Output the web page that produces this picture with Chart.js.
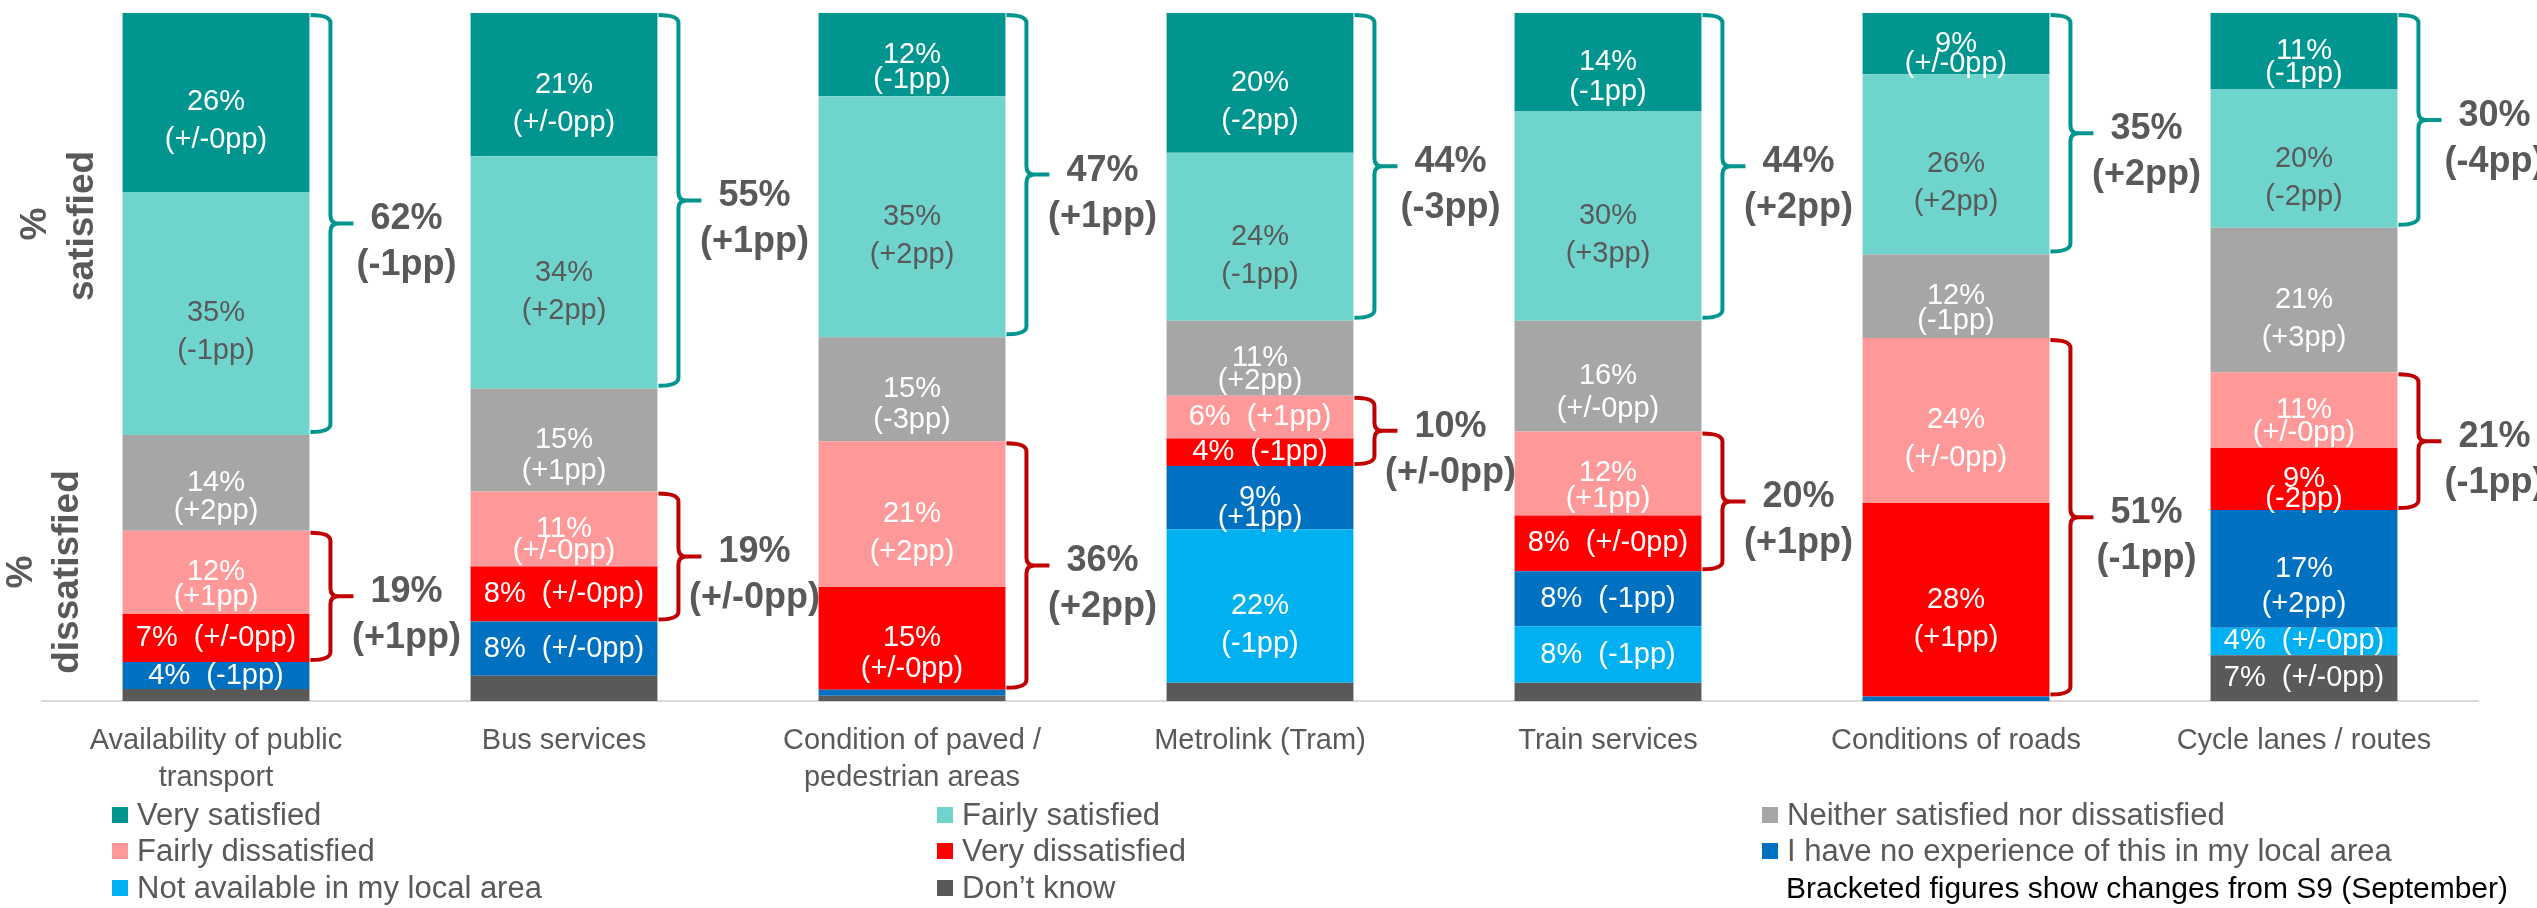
<!DOCTYPE html>
<html>
<head>
<meta charset="utf-8">
<script src="https://cdn.jsdelivr.net/npm/chart.js@4.4.1/dist/chart.umd.min.js"></script>
<style>
  body { margin: 0; background: #fff; }
  canvas { display: block; }
</style>
</head>
<body>
<canvas id="myChart" width="2537" height="908"></canvas>
<script>
const categories = [
  ['Availability of public', 'transport'],
  'Bus services',
  ['Condition of paved /', 'pedestrian areas'],
  'Metrolink (Tram)',
  'Train services',
  'Conditions of roads',
  'Cycle lanes / routes'
];

// % of respondents, bottom of the stack first
const dontKnow     = [1.8, 3.7, 0.8, 2.7, 2.7, 0, 6.7];
const notAvailable = [0, 0, 0, 22.3, 8.2, 0, 4.0];
const noExperience = [3.9, 7.9, 0.9, 9.2, 8.0, 0.7, 17.1];
const veryDis      = [7.0, 8.0, 14.9, 4.0, 8.1, 28.1, 9.0];
const fairlyDis    = [12.1, 10.9, 21.2, 6.2, 12.2, 24.0, 11.0];
const neither      = [13.9, 14.9, 15.1, 10.9, 16.1, 12.1, 21.0];
const fairlySat    = [35.3, 33.8, 35.0, 24.4, 30.4, 26.2, 20.1];
const verySat      = [26.0, 20.8, 12.1, 20.3, 14.3, 8.9, 11.1];

// changes from S9 shown in brackets (null = no label)
const chgDontKnow     = [null, null, null, null, null, null, '(+/-0pp)'];
const chgNotAvailable = [null, null, null, '(-1pp)', '(-1pp)', null, '(+/-0pp)'];
const chgNoExperience = ['(-1pp)', '(+/-0pp)', null, '(+1pp)', '(-1pp)', null, '(+2pp)'];
const chgVeryDis      = ['(+/-0pp)', '(+/-0pp)', '(+/-0pp)', '(-1pp)', '(+/-0pp)', '(+1pp)', '(-2pp)'];
const chgFairlyDis    = ['(+1pp)', '(+/-0pp)', '(+2pp)', '(+1pp)', '(+1pp)', '(+/-0pp)', '(+/-0pp)'];
const chgNeither      = ['(+2pp)', '(+1pp)', '(-3pp)', '(+2pp)', '(+/-0pp)', '(-1pp)', '(+3pp)'];
const chgFairlySat    = ['(-1pp)', '(+2pp)', '(+2pp)', '(-1pp)', '(+3pp)', '(+2pp)', '(-2pp)'];
const chgVerySat      = ['(+/-0pp)', '(+/-0pp)', '(-1pp)', '(-2pp)', '(-1pp)', '(+/-0pp)', '(-1pp)'];

// bracket totals
const satTotal  = [62, 55, 47, 44, 44, 35, 30];
const satChange = ['(-1pp)', '(+1pp)', '(+1pp)', '(-3pp)', '(+2pp)', '(+2pp)', '(-4pp)'];
const disTotal  = [19, 19, 36, 10, 20, 51, 21];
const disChange = ['(+1pp)', '(+/-0pp)', '(+2pp)', '(+/-0pp)', '(+1pp)', '(-1pp)', '(-1pp)'];

const FONT = '"Liberation Sans", Arial, sans-serif';
const GREY = '#595959';

const makeSet = function (label, data, color, changes, labelColor) {
  return {
    label: label,
    data: data,
    backgroundColor: color,
    borderWidth: 0,
    changes: changes,
    labelColor: labelColor
  };
};

const datasets = [
  makeSet('Don\u2019t know', dontKnow, '#595959', chgDontKnow, '#ffffff'),
  makeSet('Not available in my local area', notAvailable, '#00B0F0', chgNotAvailable, '#ffffff'),
  makeSet('I have no experience of this in my local area', noExperience, '#0070C0', chgNoExperience, '#ffffff'),
  makeSet('Very dissatisfied', veryDis, '#FF0000', chgVeryDis, '#ffffff'),
  makeSet('Fairly dissatisfied', fairlyDis, '#FF9999', chgFairlyDis, '#ffffff'),
  makeSet('Neither satisfied nor dissatisfied', neither, '#A6A6A6', chgNeither, '#ffffff'),
  makeSet('Fairly satisfied', fairlySat, '#6FD5CC', chgFairlySat, GREY),
  makeSet('Very satisfied', verySat, '#00968F', chgVerySat, '#ffffff')
];

// labels inside the segments
const segmentLabels = {
  id: 'segmentLabels',
  afterDatasetsDraw(chart) {
    const ctx = chart.ctx;
    ctx.save();
    ctx.font = '29px ' + FONT;
    ctx.textAlign = 'center';
    ctx.textBaseline = 'middle';
    chart.data.datasets.forEach((ds, i) => {
      chart.getDatasetMeta(i).data.forEach((bar, j) => {
        const change = ds.changes[j];
        if (!change) return;
        const v = ds.data[j];
        const pct = Math.round(v) + '%';
        const h = bar.base - bar.y;
        const cy = (bar.y + bar.base) / 2;
        ctx.fillStyle = ds.labelColor;
        if (v < 8.5) {
          ctx.fillText(pct + '  ' + change, bar.x, cy);
        } else {
          const gap = Math.max(20, Math.min(38, h * 0.3));
          ctx.fillText(pct, bar.x, cy);
          ctx.fillText(change, bar.x, cy + gap);
        }
      });
    });
    ctx.restore();
  }
};

const drawBrace = function (ctx, x, yTop, yBot, color) {
  const xv = x + 21, xt = x + 44, r = 8, ym = (yTop + yBot) / 2;
  ctx.strokeStyle = color;
  ctx.lineWidth = 4;
  ctx.beginPath();
  ctx.moveTo(x + 1, yTop);
  ctx.quadraticCurveTo(xv, yTop, xv, yTop + r);
  ctx.lineTo(xv, ym - r);
  ctx.quadraticCurveTo(xv, ym, xv + r, ym);
  ctx.lineTo(xt, ym);
  ctx.moveTo(xv + r, ym);
  ctx.quadraticCurveTo(xv, ym, xv, ym + r);
  ctx.lineTo(xv, yBot - r);
  ctx.quadraticCurveTo(xv, yBot, x + 1, yBot);
  ctx.stroke();
  return ym;
};

// curly brackets with the satisfied / dissatisfied totals
const braces = {
  id: 'braces',
  afterDatasetsDraw(chart) {
    const ctx = chart.ctx;
    const vs = chart.getDatasetMeta(7).data;
    const fs = chart.getDatasetMeta(6).data;
    const fd = chart.getDatasetMeta(4).data;
    const vd = chart.getDatasetMeta(3).data;
    ctx.save();
    ctx.textAlign = 'center';
    ctx.textBaseline = 'middle';
    ctx.font = 'bold 36px ' + FONT;
    vs.forEach((bar, j) => {
      const right = bar.x + bar.width / 2;
      let ym = drawBrace(ctx, right, vs[j].y + 2, fs[j].base - 3, '#00968F');
      ctx.fillStyle = GREY;
      ctx.fillText(satTotal[j] + '%', right + 97, ym - 4);
      ctx.fillText(satChange[j], right + 97, ym + 42);

      ym = drawBrace(ctx, right, fd[j].y + 2, vd[j].base - 2, '#C00000');
      ctx.fillText(disTotal[j] + '%', right + 97, ym - 4);
      ctx.fillText(disChange[j], right + 97, ym + 42);
    });
    ctx.restore();
  }
};

// side titles, legend and footnote
const extras = {
  id: 'extras',
  afterDraw(chart) {
    const ctx = chart.ctx;
    ctx.save();
    ctx.fillStyle = GREY;
    ctx.textAlign = 'center';
    ctx.textBaseline = 'middle';
    ctx.font = 'bold 37px ' + FONT;
    const rotated = function (text, x, y) {
      ctx.save();
      ctx.translate(x, y);
      ctx.rotate(-Math.PI / 2);
      ctx.fillText(text, 0, 0);
      ctx.restore();
    };
    rotated('%', 36, 224);
    rotated('satisfied', 83, 226);
    rotated('%', 22, 572);
    rotated('dissatisfied', 68, 572);

    // legend in three columns, top of stack first
    const items = chart.data.datasets.slice().reverse();
    const colX = [112, 937, 1762];
    const rowY = [815, 851, 888];
    ctx.textAlign = 'left';
    ctx.font = '31px ' + FONT;
    items.forEach((ds, k) => {
      const x = colX[k % 3];
      const y = rowY[Math.floor(k / 3)];
      ctx.fillStyle = ds.backgroundColor;
      ctx.fillRect(x, y - 8, 16, 16);
      ctx.fillStyle = GREY;
      ctx.fillText(ds.label, x + 25, y + 1);
    });

    ctx.fillStyle = '#000000';
    ctx.font = '30px ' + FONT;
    ctx.fillText('Bracketed figures show changes from S9 (September)', 1786, 890);
    ctx.restore();
  }
};

const config = {
  type: 'bar',
  data: {
    labels: categories,
    datasets: datasets
  },
  options: {
    responsive: false,
    animation: false,
    devicePixelRatio: 1,
    barPercentage: 0.537,
    categoryPercentage: 1,
    layout: {
      padding: { left: 42, right: 59, top: 13, bottom: 91 }
    },
    plugins: {
      legend: { display: false },
      tooltip: { enabled: false }
    },
    scales: {
      x: {
        stacked: true,
        grid: { display: false, drawTicks: false },
        border: { display: true, color: '#d9d9d9', width: 2 },
        ticks: {
          color: GREY,
          font: { family: FONT, size: 29, lineHeight: 1.27 },
          padding: 21,
          maxRotation: 0,
          autoSkip: false
        }
      },
      y: {
        stacked: true,
        display: false,
        min: 0,
        max: 100
      }
    }
  },
  plugins: [segmentLabels, braces, extras]
};

const myChart = new Chart(document.getElementById('myChart'), config);
</script>
</body>
</html>
